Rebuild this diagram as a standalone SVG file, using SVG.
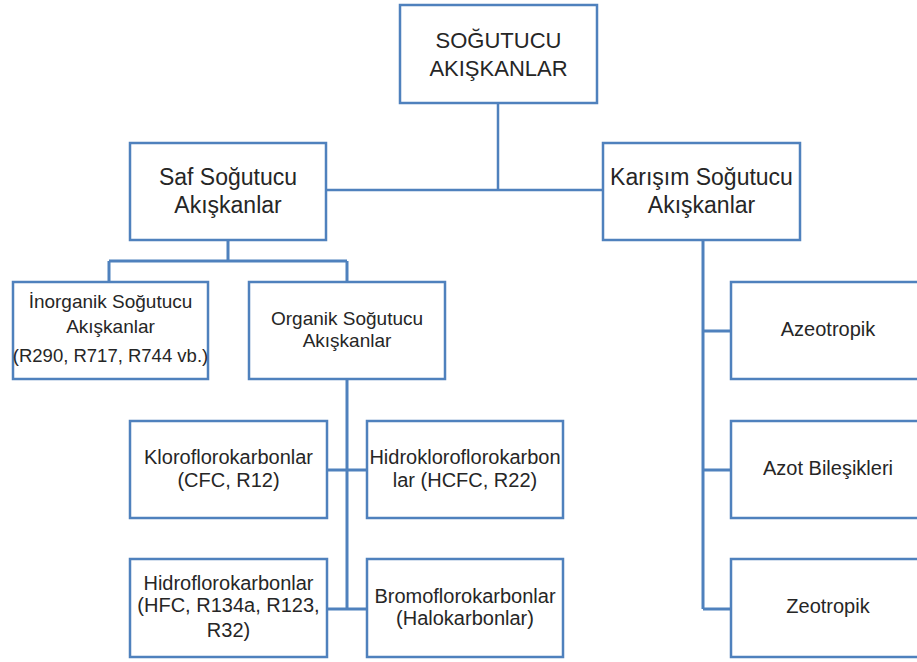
<svg xmlns="http://www.w3.org/2000/svg" width="917" height="662" viewBox="0 0 917 662">
<style>
.box{fill:#fff;stroke:#4f81bd;stroke-width:2.5}
.ln{fill:none;stroke:#4f81bd;stroke-width:2.5}
.ln3{fill:none;stroke:#4f81bd;stroke-width:3}
text{font-family:"Liberation Sans",Arial,sans-serif;fill:#262626;text-anchor:middle}
.t22{font-size:22px}
.t23{font-size:23px}
.t19{font-size:19px}
.t20{font-size:20px}
</style>
<rect width="917" height="662" fill="#fff"/>
<g id="connectors">
<path class="ln" d="M498 103V190M326 190H603"/>
<path class="ln3" d="M228 240V261M109 261H347M109 261V282M347 261V282"/>
<path class="ln3" d="M347 378V609M327 470H367M327 609H367"/>
<path class="ln3" d="M703 240V609M703 331H731M703 470H731M703 609H731"/>
</g>
<g id="n-root"><rect class="box" x="400" y="5" width="197" height="98"/><text class="t22" x="498.5" y="48">SOĞUTUCU</text><text class="t22" x="498.5" y="76">AKIŞKANLAR</text></g>
<g id="n-saf"><rect class="box" x="130" y="143" width="196" height="97"/><text class="t23" x="228" y="185">Saf Soğutucu</text><text class="t23" x="228" y="213">Akışkanlar</text></g>
<g id="n-karisim"><rect class="box" x="603" y="143" width="197" height="97"/><text class="t23" x="701.5" y="185">Karışım Soğutucu</text><text class="t23" x="701.5" y="213">Akışkanlar</text></g>
<g id="n-inorganik"><rect class="box" x="13" y="282" width="195" height="97"/><text class="t19" x="110.5" y="308">İnorganik Soğutucu</text><text class="t19" x="110.5" y="333">Akışkanlar</text><text class="t19" x="110.5" y="362" style="font-size:18.5px">(R290, R717, R744 vb.)</text></g>
<g id="n-organik"><rect class="box" x="249" y="282" width="196" height="97"/><text class="t19" x="347" y="325">Organik Soğutucu</text><text class="t19" x="347" y="347">Akışkanlar</text></g>
<g id="n-cfc"><rect class="box" x="130" y="421" width="197" height="97"/><text class="t20" x="228.5" y="464">Kloroflorokarbonlar</text><text class="t20" x="228.5" y="487">(CFC, R12)</text></g>
<g id="n-hcfc"><rect class="box" x="367" y="421" width="196" height="97"/><text class="t20" x="465" y="464">Hidrokloroflorokarbon</text><text class="t20" x="465" y="487">lar (HCFC, R22)</text></g>
<g id="n-hfc"><rect class="box" x="130" y="559" width="197" height="98"/><text class="t20" x="228.5" y="590">Hidroflorokarbonlar</text><text class="t20" x="228.5" y="612">(HFC, R134a, R123,</text><text class="t20" x="228.5" y="637">R32)</text></g>
<g id="n-bromo"><rect class="box" x="367" y="559" width="196" height="98"/><text class="t20" x="465" y="603">Bromoflorokarbonlar</text><text class="t20" x="465" y="625">(Halokarbonlar)</text></g>
<g id="n-azeo"><rect class="box" x="731" y="282" width="196" height="97"/><text class="t20" x="828" y="336">Azeotropik</text></g>
<g id="n-azot"><rect class="box" x="731" y="421" width="196" height="97"/><text class="t20" x="828" y="475">Azot Bileşikleri</text></g>
<g id="n-zeo"><rect class="box" x="731" y="559" width="196" height="98"/><text class="t20" x="828" y="613">Zeotropik</text></g>
</svg>
